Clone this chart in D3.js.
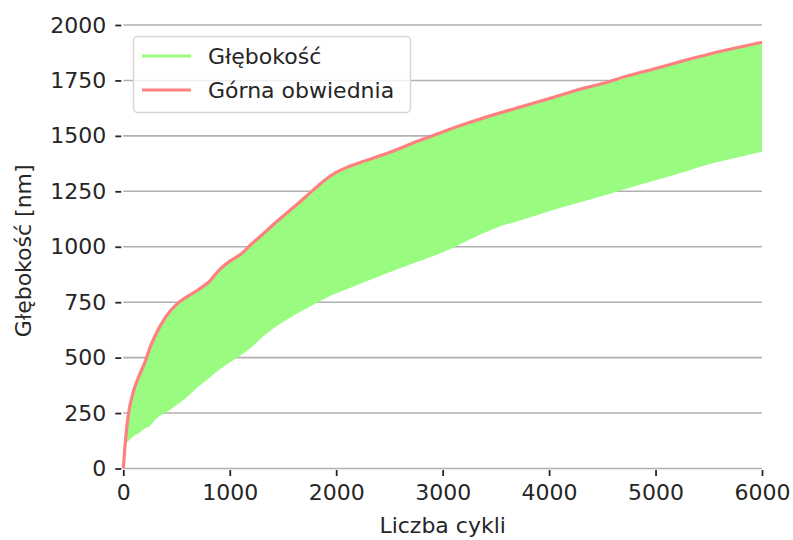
<!DOCTYPE html>
<html>
<head>
<meta charset="utf-8">
<script src="https://cdn.jsdelivr.net/npm/d3@7"></script>
<style>
  body { margin: 0; background: #ffffff; }
  text { font-family: "DejaVu Sans", sans-serif; fill: #262626; }
</style>
</head>
<body>
<div id="chart"></div>
<script>
// Values
var cycles = [0, 25, 50, 100, 150, 200, 250, 300, 400, 500, 600, 700, 800, 900, 1000,
    1100, 1200, 1300, 1400, 1600, 1800, 1900, 2000, 2100, 2250, 2500, 2750, 3000, 3250,
    3500, 3750, 4000, 4250, 4500, 4750, 5000, 5250, 5500, 5750, 6000];
var upper = [0, 150, 250, 355, 420, 475, 545, 600, 685, 740, 775, 805, 840, 895, 935,
    965, 1010, 1052, 1096, 1178, 1262, 1303, 1335, 1358, 1384, 1425, 1473, 1518, 1560,
    1598, 1633, 1668, 1705, 1736, 1772, 1804, 1837, 1868, 1896, 1922];
var lower = [0, 110, 125, 147, 160, 180, 192, 220, 252, 285, 322, 367, 405, 445, 478,
    510, 545, 590, 628, 690, 742, 768, 790, 808, 838, 885, 930, 975, 1032,
    1085, 1122, 1160, 1195, 1229, 1265, 1300, 1335, 1372, 1400, 1428];
var xTicks = [0, 1000, 2000, 3000, 4000, 5000, 6000];
var yTicks = [0, 250, 500, 750, 1000, 1250, 1500, 1750, 2000];
var seriesNames = ['Głębokość', 'Górna obwiednia'];
var xLabel = 'Liczba cykli',
    yLabel = 'Głębokość [nm]';

(function() {
    var width = 793,
        height = 540;

    // Plot area (window.top is taken, so prefix these)
    var plotLeft = 123.3, plotRight = 762, plotTop = 25, plotBottom = 468.5;

    var fillColor = '#99fc80',
        lineColor = '#ff8080',
        fontSize = 22;

    var svg = d3.select('#chart').append('svg')
        .attr('width', width)
        .attr('height', height);

    var x = d3.scaleLinear().domain([0, 6000]).range([plotLeft, plotRight]);
    var y = d3.scaleLinear().domain([0, 2000]).range([plotBottom, plotTop]);

    var rows = cycles.map(function(c, i) {
        return {c: c, lo: lower[i], hi: upper[i]};
    });

    // Gridlines
    svg.append('g').selectAll('line')
        .data(yTicks)
        .enter().append('line')
        .attr('x1', plotLeft).attr('x2', plotRight)
        .attr('y1', function(d) { return y(d); })
        .attr('y2', function(d) { return y(d); })
        .style('stroke', '#b0b0b0')
        .style('stroke-width', 1.6);

    // Green band
    var area = d3.area()
        .x(function(d) { return x(d.c); })
        .y0(function(d) { return y(d.lo); })
        .y1(function(d) { return y(d.hi); })
        .curve(d3.curveMonotoneX);

    svg.append('path')
        .datum(rows)
        .attr('d', area)
        .style('fill', fillColor);

    // Upper envelope
    var line = d3.line()
        .x(function(d) { return x(d.c); })
        .y(function(d) { return y(d.hi); })
        .curve(d3.curveMonotoneX);

    svg.append('path')
        .datum(rows)
        .attr('d', line)
        .style('fill', 'none')
        .style('stroke', lineColor)
        .style('stroke-width', 3.2)
        .style('stroke-linejoin', 'round');

    // Axes
    var xAxis = d3.axisBottom(x).tickValues(xTicks).tickSize(6).tickPadding(8)
        .tickFormat(d3.format('d'));
    var yAxis = d3.axisLeft(y).tickValues(yTicks).tickSize(6).tickPadding(9)
        .tickFormat(d3.format('d'));

    var gx = svg.append('g')
        .attr('transform', 'translate(0,' + (plotBottom + 1.5) + ')')
        .call(xAxis);
    var gy = svg.append('g')
        .attr('transform', 'translate(' + (plotLeft - 2) + ',0)')
        .call(yAxis);

    [gx, gy].forEach(function(g) {
        g.select('.domain').remove();
        g.selectAll('.tick line').style('stroke', '#262626').style('stroke-width', 1.8);
        g.selectAll('.tick text')
            .style('font-family', '"DejaVu Sans", sans-serif')
            .style('font-size', fontSize + 'px')
            .style('fill', '#262626');
    });

    // Axis labels
    svg.append('text')
        .attr('x', (plotLeft + plotRight) / 2).attr('y', 533)
        .attr('text-anchor', 'middle')
        .style('font-size', fontSize + 'px')
        .text(xLabel);

    svg.append('text')
        .attr('transform', 'translate(31,' + ((plotTop + plotBottom) / 2 + 4) + ') rotate(-90)')
        .attr('text-anchor', 'middle')
        .style('font-size', fontSize + 'px')
        .text(yLabel);

    // Legend
    var legend = svg.append('g');

    legend.append('rect')
        .attr('x', 133.5).attr('y', 36.5)
        .attr('rx', 4).attr('ry', 4)
        .attr('width', 277).attr('height', 76)
        .style('fill', 'rgba(255,255,255,0.8)')
        .style('stroke', '#d6d6d6')
        .style('stroke-width', 1.5);

    var colors = [fillColor, lineColor];
    seriesNames.forEach(function(name, i) {
        var ly = 56 + i * 34;
        legend.append('line')
            .attr('x1', 142).attr('x2', 191)
            .attr('y1', ly).attr('y2', ly)
            .style('stroke', colors[i])
            .style('stroke-width', 3.2);
        legend.append('text')
            .attr('x', 208).attr('y', ly + 8)
            .style('font-size', fontSize + 'px')
            .text(name);
    });
}());
</script>
</body>
</html>
